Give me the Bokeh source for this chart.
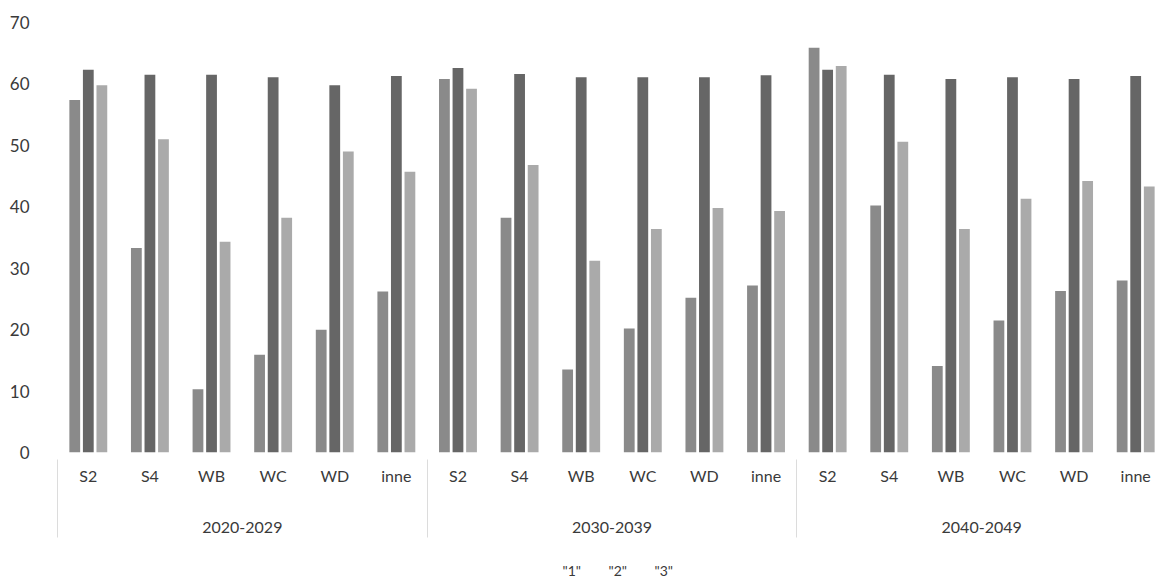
from bokeh.plotting import figure
from bokeh.layouts import column
from bokeh.models import (Range1d, LinearAxis, FixedTicker, Legend,
                          LegendItem, ColumnDataSource, CustomJSTickFormatter)
from bokeh.transform import dodge
from bokeh.embed import file_html
from bokeh.resources import INLINE

periods = ["2020-2029", "2030-2039", "2040-2049"]
subs = ["S2", "S4", "WB", "WC", "WD", "inne"]
series_names = ['"1"', '"2"', '"3"']
s1 = [57.4, 33.3, 10.3, 15.9, 20.0, 26.2,
      60.8, 38.2, 13.5, 20.2, 25.2, 27.2,
      65.9, 40.2, 14.1, 21.5, 26.3, 28.0]
s2 = [62.3, 61.5, 61.5, 61.1, 59.8, 61.3,
      62.6, 61.6, 61.1, 61.1, 61.1, 61.4,
      62.3, 61.5, 60.8, 61.1, 60.8, 61.3]
s3 = [59.8, 51.0, 34.3, 38.2, 49.0, 45.7,
      59.2, 46.8, 31.2, 36.4, 39.8, 39.3,
      62.9, 50.6, 36.4, 41.3, 44.2, 43.3]
y_ticks = [0, 10, 20, 30, 40, 50, 60, 70]

colors = ["#8a8a8a", "#666666", "#aaaaaa"]
FONT = "Lato"
TXT = "#3a3a3a"

n_cat = len(periods) * len(subs)
centers = [i + 0.5 for i in range(n_cat)]
src = ColumnDataSource(dict(x=centers, s1=s1, s2=s2, s3=s3))

p = figure(x_range=Range1d(0, n_cat), y_range=Range1d(0, 70),
           width=1166, height=556, min_border_left=57, min_border_right=0,
           min_border_top=22, min_border_bottom=104,
           output_backend="svg", toolbar_location=None)
p.outline_line_color = None
p.xgrid.visible = False
p.ygrid.visible = False

for col, off, c in [("s1", -0.22, colors[0]), ("s2", 0.0, colors[1]), ("s3", 0.22, colors[2])]:
    p.vbar(x=dodge("x", off), top=col, width=0.175, source=src,
           fill_color=c, line_color=None)

# y axis
p.yaxis.ticker = FixedTicker(ticks=y_ticks)
p.yaxis.axis_line_color = None
p.yaxis.major_tick_line_color = None
p.yaxis.minor_tick_line_color = None
p.yaxis.major_label_standoff = 22
p.yaxis.major_label_text_font = FONT
p.yaxis.major_label_text_font_size = "17px"
p.yaxis.major_label_text_color = TXT

# sub-category axis
xa = p.xaxis[0]
xa.ticker = FixedTicker(ticks=centers, minor_ticks=[])
xa.formatter = CustomJSTickFormatter(args=dict(subs=subs),
                                     code="return subs[Math.floor(tick) % subs.length];")
xa.axis_line_color = None
xa.major_tick_line_color = None
xa.minor_tick_line_color = None
xa.major_label_standoff = 7
xa.major_label_text_font = FONT
xa.major_label_text_font_size = "16px"
xa.major_label_text_color = TXT

# group axis
ga = LinearAxis(ticker=FixedTicker(ticks=[3, 9, 15], minor_ticks=[0, 6, 12, 18]),
                formatter=CustomJSTickFormatter(args=dict(periods=periods),
                                                code="return periods[Math.round((tick-3)/6)] || '';"))
ga.axis_line_color = None
ga.major_tick_line_color = None
ga.minor_tick_line_color = "#dcdcdc"
ga.minor_tick_in = 28
ga.minor_tick_out = 50
ga.major_label_standoff = -16
ga.major_label_text_font = FONT
ga.major_label_text_font_size = "16px"
ga.major_label_text_color = TXT
p.add_layout(ga, "below")

# legend strip
lf = figure(x_range=Range1d(0, 1), y_range=Range1d(0, 1), width=1166, height=28,
            min_border=0, output_backend="svg", toolbar_location=None)
lf.axis.visible = False
lf.xgrid.visible = False
lf.ygrid.visible = False
lf.outline_line_color = None
items = []
for n, c in zip(series_names, colors):
    r = lf.vbar(x=[], top=[], width=0.1, fill_color=c, line_color=None)
    items.append(LegendItem(label=n, renderers=[r]))
legend = Legend(items=items, orientation="horizontal", location="center")
legend.border_line_color = None
legend.background_fill_alpha = 0
legend.label_text_font = FONT
legend.label_text_font_size = "14px"
legend.label_text_color = TXT
legend.glyph_width = 9
legend.glyph_height = 9
legend.spacing = 12
legend.label_standoff = 5
legend.padding = 2
legend.margin = 0
lf.add_layout(legend, "center")

open("out.html", "w").write(file_html(column(p, lf, spacing=0), INLINE))
